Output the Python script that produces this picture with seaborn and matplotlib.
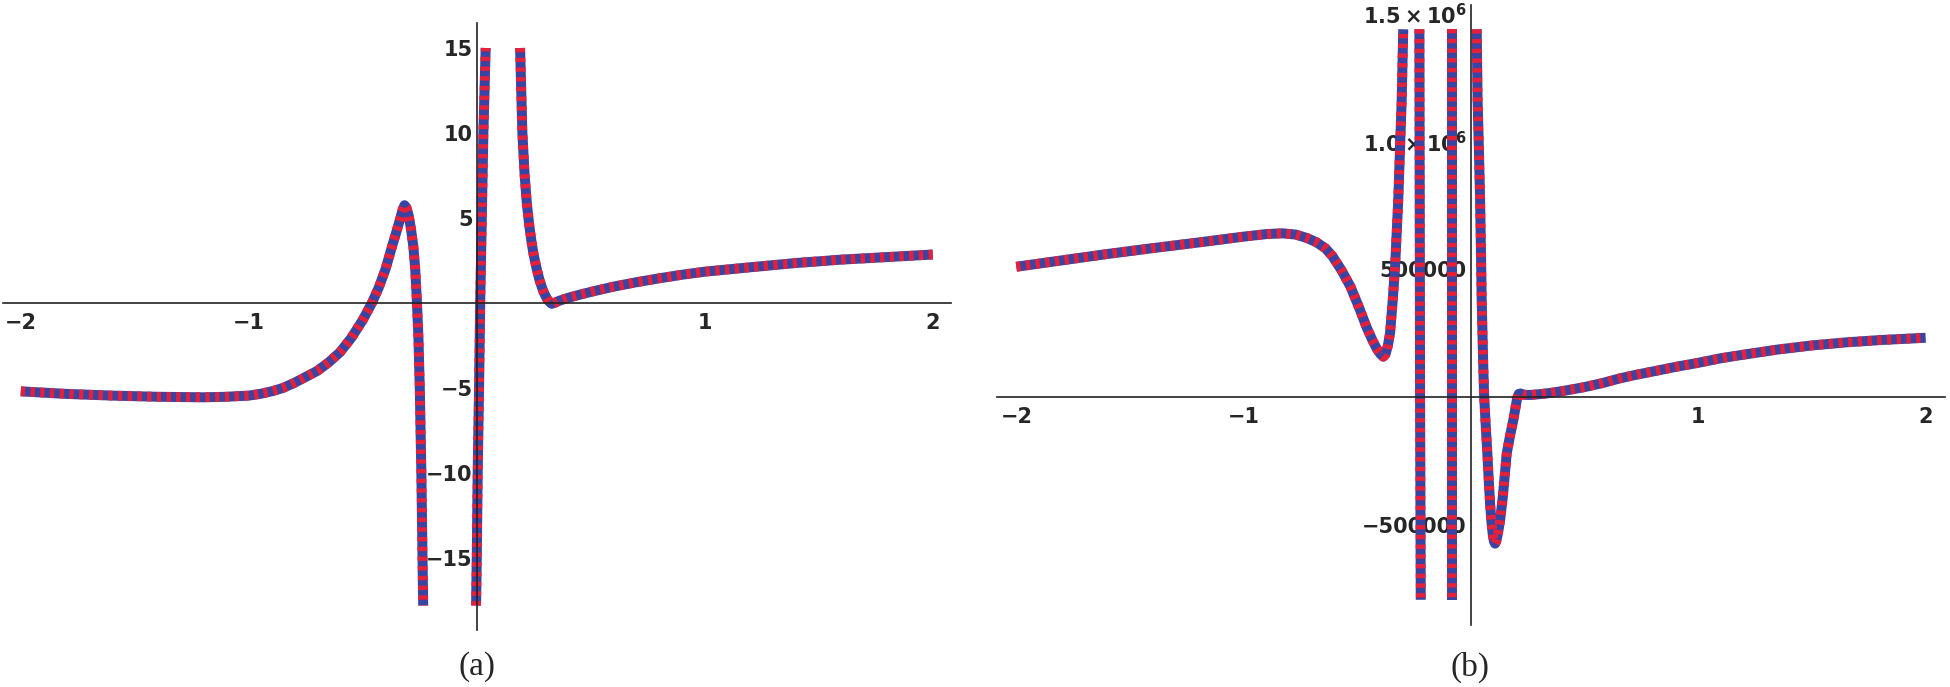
import numpy as np
import pandas as pd
import seaborn as sns
import matplotlib.pyplot as plt
from matplotlib.ticker import FixedLocator, MultipleLocator, FixedFormatter

# ---- panel (a): three branches
a1_x = [-2.0, -1.8, -1.6, -1.4, -1.2, -1.1, -1.0, -0.95, -0.9, -0.85, -0.8, -0.75, -0.7,
        -0.65, -0.6, -0.55, -0.5, -0.46, -0.43, -0.40, -0.37, -0.35, -0.335, -0.325,
        -0.317, -0.308, -0.298, -0.288, -0.278, -0.27, -0.263, -0.256, -0.25, -0.243,
        -0.238, -0.235]
a1_y = [-5.2, -5.35, -5.45, -5.52, -5.55, -5.52, -5.45, -5.35, -5.2, -5.0, -4.7, -4.35,
        -4.0, -3.5, -2.9, -2.05, -1.0, 0.0, 0.9, 2.0, 3.4, 4.3, 5.0, 5.5,
        5.75, 5.6, 5.1, 4.3, 3.3, 2.0, 0.2, -2.0, -5.0, -10.0,
        -15.0, -17.8]
a2_x = [-0.003, 0.0, 0.004, 0.010, 0.015, 0.022, 0.029, 0.035, 0.039]
a2_y = [-17.8, -15.0, -10.0, -5.0, 0.0, 5.0, 10.0, 13.0, 15.0]
a3_x = [0.19, 0.195, 0.20, 0.21, 0.22, 0.23, 0.24, 0.25, 0.263, 0.275, 0.29, 0.30, 0.31,
        0.32, 0.329, 0.34, 0.36, 0.4, 0.45, 0.5, 0.6, 0.7, 0.8, 0.9, 1.0, 1.2, 1.4, 1.6,
        1.8, 2.0]
a3_y = [15.0, 12.5, 10.0, 7.5, 5.8, 4.6, 3.6, 2.8, 2.0, 1.35, 0.75, 0.45, 0.2,
        0.05, -0.05, 0.0, 0.12, 0.3, 0.48, 0.65, 0.96, 1.22, 1.45, 1.66, 1.84, 2.1, 2.35, 2.55,
        2.7, 2.85]

# ---- panel (b): four branches
b1_x = [-2.0, -1.8, -1.6, -1.4, -1.2, -1.0, -0.9, -0.83, -0.77, -0.72, -0.68, -0.64, -0.61,
        -0.57, -0.53, -0.49, -0.46, -0.435, -0.415, -0.40, -0.386, -0.376, -0.366, -0.356,
        -0.345, -0.334, -0.32, -0.305, -0.298]
b1_y = [510000, 535000, 560000, 583000, 605000, 628000, 638000, 641000, 636000, 622000,
        606000, 582000, 552000, 497000, 432000, 345000, 275000, 225000, 190000, 170000,
        158000, 168000, 200000, 250000, 370000, 510000, 771000, 1160000, 1440000]
b2_x = [-0.227, -0.224, -0.221]
b2_y = [1440000, 0, -794000]
b3_x = [-0.085, -0.085, -0.085]
b3_y = [1440000, 0, -794000]
b4_x = [0.025, 0.029, 0.035, 0.040, 0.044, 0.047, 0.051, 0.054, 0.058, 0.065, 0.072, 0.078,
        0.084, 0.090, 0.096, 0.101, 0.106, 0.111, 0.116, 0.122, 0.128, 0.14, 0.157, 0.172,
        0.186, 0.196, 0.203, 0.21, 0.218, 0.23, 0.26, 0.3, 0.35, 0.42, 0.5, 0.58, 0.65,
        0.72, 0.8, 0.9, 1.0, 1.1, 1.2, 1.35, 1.5, 1.65, 1.8, 2.0]
b4_y = [1440000, 1163000, 960000, 771000, 560000, 380000, 230000, 119000, 0, -115000,
        -222000, -325000, -418000, -490000, -540000, -565000, -574000, -565000, -545000,
        -515000, -483000, -390000, -222000, -150000, -91000, -40000, -5000, 12000, 14000,
        9000, 8000, 11000, 16000, 26000, 39000, 55000, 72000, 86000, 100000, 118000, 134000,
        152000, 166000, 186000, 202000, 214000, 223000, 232000]

panel_a = [(a1_x, a1_y), (a2_x, a2_y), (a3_x, a3_y)]
panel_b = [(b1_x, b1_y), (b2_x, b2_y), (b3_x, b3_y), (b4_x, b4_y)]

sns.set_style('white')
plt.rcParams['font.family'] = ['DejaVu Sans']
plt.rcParams['font.weight'] = 'bold'
plt.rcParams['mathtext.fontset'] = 'dejavusans'

BLUE = '#3a44a2'
RED = '#e5203a'
W, H = 1950, 687

fig = plt.figure(figsize=(19.5, 6.87), dpi=100)


def make_axes(left, right, top, bottom):
    return fig.add_axes([left / W, 1 - bottom / H, (right - left) / W, (bottom - top) / H])


def draw_branches(ax, branches):
    # blue solid underneath, red short dashes on top
    for bx, by in branches:
        df = pd.DataFrame({'x': bx, 'y': by})
        sns.lineplot(data=df, x='x', y='y', ax=ax, sort=False, estimator=None,
                     color=BLUE, lw=7.2, solid_capstyle='butt', solid_joinstyle='round')
        sns.lineplot(data=df, x='x', y='y', ax=ax, sort=False, estimator=None,
                     color=RED, lw=7.0, linestyle=(0, (0.45, 0.55)), dash_capstyle='butt')


def style_axes(ax):
    for s in ['top', 'right']:
        ax.spines[s].set_visible(False)
    for s in ['left', 'bottom']:
        ax.spines[s].set_position(('data', 0))
        ax.spines[s].set_color('#222222')
        ax.spines[s].set_linewidth(1.2)
    ax.set_xlabel('')
    ax.set_ylabel('')
    ax.xaxis.set_major_locator(FixedLocator([-2, -1, 1, 2]))
    ax.xaxis.set_minor_locator(MultipleLocator(0.2))
    ax.tick_params(axis='both', which='major', direction='in', length=7.5, width=1.0,
                   color='#222222', labelsize=15)
    ax.tick_params(axis='both', which='minor', direction='in', length=4.5, width=0.9,
                   color='#222222')
    ax.tick_params(axis='x', which='major', pad=7)
    ax.tick_params(axis='y', which='major', pad=3)
    ax.patch.set_alpha(0)


# (a)
ax1 = make_axes(3, 951, 23, 630)
draw_branches(ax1, panel_a)
ax1.set_xlim(-2.078, 2.08)
ax1.set_ylim(-19.24, 16.47)
ax1.yaxis.set_major_locator(FixedLocator([-15, -10, -5, 5, 10, 15]))
ax1.yaxis.set_minor_locator(MultipleLocator(1))
style_axes(ax1)

# (b)
ax2 = make_axes(997, 1945, 5, 625)
draw_branches(ax2, panel_b)
ax2.set_xlim(-2.085, 2.085)
ax2.set_ylim(-892700, 1535000)
ax2.yaxis.set_major_locator(FixedLocator([-500000, 500000, 1000000, 1500000]))
ax2.yaxis.set_major_formatter(FixedFormatter(['\u2212500000', '500000',
                                              r'$\mathbf{1.0\times10^{6}}$',
                                              r'$\mathbf{1.5\times10^{6}}$']))
ax2.yaxis.set_minor_locator(MultipleLocator(100000))
style_axes(ax2)

fig.text(477 / W, 1 - 667 / H, '(a)', ha='center', va='center', fontsize=24,
         fontweight='normal', family=['Liberation Serif', 'DejaVu Serif'])
fig.text(1470 / W, 1 - 667 / H, '(b)', ha='center', va='center', fontsize=24,
         fontweight='normal', family=['Liberation Serif', 'DejaVu Serif'])

fig.savefig('out.png', dpi=100, facecolor='white')
